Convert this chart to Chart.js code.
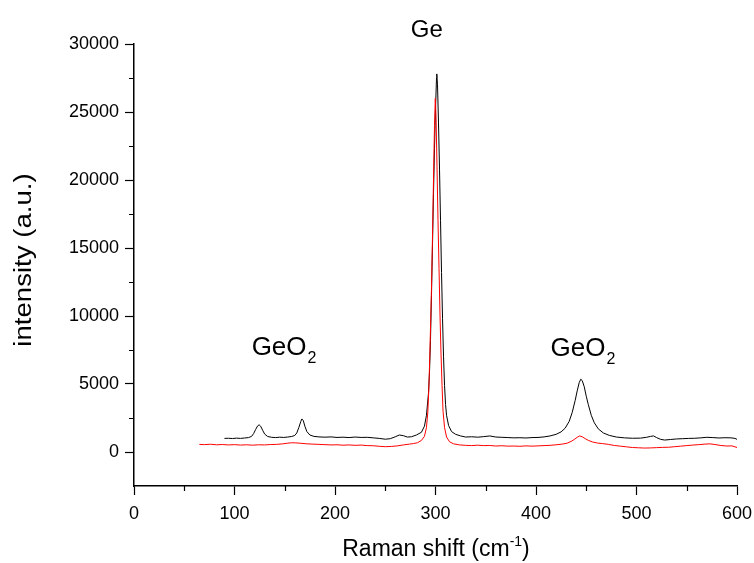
<!DOCTYPE html>
<html>
<head>
<meta charset="utf-8">
<script src="https://cdn.jsdelivr.net/npm/chart.js@4/dist/chart.umd.min.js"></script>
<style>
  html, body { margin: 0; padding: 0; background: #fff; }
  #wrap { width: 754px; height: 563px; position: relative; }
</style>
</head>
<body>
<div id="wrap"><canvas id="c"></canvas></div>
<script>
// Raman spectra: Raman shift (cm^-1) vs intensity (a.u.)
const blackShift = [90, 94, 98, 102, 106, 110, 114, 117, 119, 121, 123, 124.5, 126, 128, 130, 133, 137, 141, 145, 149, 153, 157, 160, 162, 164, 166, 167, 168.5, 170, 172, 175, 179, 184, 190, 196, 202, 208, 214, 220, 226, 232, 238, 244, 250, 255, 260, 264, 268, 272, 276, 281, 286, 289, 291, 293, 294, 295, 296, 297, 298, 299, 300, 301, 301.3, 302, 303, 304, 305, 306, 307, 308, 309, 310, 311, 313, 316, 320, 325, 330, 336, 342, 348, 354, 360, 366, 372, 378, 384, 390, 396, 402, 408, 414, 420, 425, 429, 433, 436, 439, 441, 443, 444.5, 446, 448, 450, 452, 455, 458, 462, 467, 473, 480, 488, 496, 504, 510, 514, 517, 520, 524, 528, 534, 540, 546, 552, 558, 564, 570, 576, 582, 588, 594, 598, 600];
const blackIntensity = [1000, 1010, 990, 1020, 1000, 1030, 1060, 1150, 1350, 1650, 1920, 2000, 1900, 1600, 1320, 1140, 1080, 1060, 1090, 1070, 1100, 1140, 1220, 1400, 1800, 2250, 2430, 2300, 1900, 1500, 1250, 1150, 1110, 1090, 1110, 1070, 1090, 1060, 1100, 1070, 1080, 1040, 1000, 940, 980, 1120, 1250, 1200, 1100, 1120, 1250, 1450, 1900, 2700, 4300, 5800, 8200, 11500, 15200, 19000, 22300, 25200, 27500, 27800, 27000, 24200, 20800, 17000, 13200, 9800, 7000, 4900, 3500, 2700, 1950, 1500, 1300, 1180, 1100, 1120, 1090, 1130, 1180, 1100, 1080, 1060, 1040, 1050, 1030, 1060, 1070, 1110, 1180, 1300, 1480, 1750, 2250, 2900, 3800, 4500, 5100, 5350, 5250, 4800, 4100, 3500, 2700, 2150, 1700, 1400, 1220, 1100, 1040, 1010, 1020, 1080, 1150, 1180, 1060, 930, 880, 920, 960, 980, 1000, 1010, 1040, 1080, 1060, 1030, 1050, 1040, 1000, 930];

const redShift = [65, 70, 76, 82, 88, 94, 100, 106, 112, 118, 124, 130, 136, 142, 148, 153, 157, 161, 166, 172, 178, 184, 190, 196, 202, 208, 214, 220, 226, 232, 238, 244, 250, 256, 262, 268, 274, 278, 282, 286, 289, 291, 292.3, 293.3, 294.3, 295.5, 296, 297, 298, 299, 299.8, 300.6, 301.5, 302.5, 303.5, 304.5, 305.5, 306.5, 307.5, 309, 311, 314, 318, 324, 330, 336, 342, 348, 354, 360, 366, 372, 378, 384, 390, 396, 402, 408, 414, 420, 426, 431, 435, 438, 441, 443.5, 446, 449, 452, 456, 461, 466, 472, 478, 484, 490, 496, 502, 508, 514, 520, 526, 532, 538, 544, 550, 556, 562, 568, 573, 578, 584, 590, 595, 600];
const redIntensity = [560, 540, 570, 530, 550, 520, 540, 510, 530, 500, 530, 520, 550, 560, 600, 650, 680, 670, 640, 600, 580, 560, 540, 520, 530, 500, 520, 490, 510, 470, 460, 420, 390, 410, 450, 520, 580, 620, 680, 850, 1150, 1800, 2870, 4500, 7000, 10500, 12000, 15800, 20000, 24000, 26000, 24500, 21000, 17000, 13500, 10000, 7200, 4900, 3000, 1800, 1100, 750, 600, 520, 490, 470, 500, 470, 480, 440, 460, 430, 440, 420, 450, 430, 450, 470, 490, 530, 580, 650, 780, 920, 1080, 1180, 1120, 980, 860, 740, 660, 620, 560, 480, 430, 380, 330, 310, 290, 300, 320, 340, 350, 390, 430, 470, 510, 540, 580, 600, 550, 480, 440, 450, 330];

// axis ticks
const xMajorTicks = [0, 100, 200, 300, 400, 500, 600];
const xMinorTicks = [50, 150, 250, 350, 450, 550];
const yMajorTicks = [0, 5000, 10000, 15000, 20000, 25000, 30000];
const yMinorTicks = [2500, 7500, 12500, 17500, 22500, 27500];

// peak labels
const peakLabels = ['Ge', 'GeO', 'GeO'];
const peakSubscripts = ['', '2', '2'];

const FONT = '"Liberation Sans", Arial, Helvetica, sans-serif';

// label anchors in data units, with their text sizes
const labelSpots = [
  { x: 291.3, y: 30515, size: 24 },
  { x: 149.3, y: 7132, size: 26 },
  { x: 446.7, y: 7059, size: 26 }
];

function toPoints(xs, ys) {
  return xs.map((x, i) => ({ x: x, y: ys[i] }));
}

// draws minor ticks, axis titles and peak labels
const decorations = {
  id: 'decorations',
  afterDraw(chart) {
    const ctx = chart.ctx;
    const xs = chart.scales.x, ys = chart.scales.y;
    const area = chart.chartArea;
    ctx.save();
    ctx.strokeStyle = '#000';
    ctx.lineWidth = 1.2;
    ctx.beginPath();
    xMinorTicks.forEach(v => {
      const px = Math.round(xs.getPixelForValue(v)) + 0.5;
      ctx.moveTo(px, area.bottom);
      ctx.lineTo(px, area.bottom + 5);
    });
    yMinorTicks.forEach(v => {
      const py = Math.round(ys.getPixelForValue(v)) + 0.5;
      ctx.moveTo(area.left, py);
      ctx.lineTo(area.left - 5, py);
    });
    ctx.stroke();

    ctx.fillStyle = '#000';
    ctx.textBaseline = 'alphabetic';

    // text with sub/superscript part
    function richText(parts, cx, baseline) {
      let total = 0;
      parts.forEach(p => { ctx.font = p.size + 'px ' + FONT; p.w = ctx.measureText(p.t).width + (p.gap || 0); total += p.w; });
      let x = cx - total / 2;
      ctx.textAlign = 'left';
      parts.forEach(p => {
        ctx.font = p.size + 'px ' + FONT;
        ctx.fillText(p.t, x + (p.gap || 0), baseline + (p.dy || 0));
        x += p.w;
      });
    }

    // x axis title
    richText([
      { t: 'Raman shift (cm', size: 23 },
      { t: '-1', size: 14, dy: -10 },
      { t: ')', size: 23 }
    ], 436, 556);

    // y axis title
    ctx.save();
    ctx.translate(31, 260);
    ctx.rotate(-Math.PI / 2);
    ctx.scale(1.2, 1);
    ctx.font = '23px ' + FONT;
    ctx.textAlign = 'center';
    ctx.fillText('intensity (a.u.)', 0, 0);
    ctx.restore();

    // peak labels
    peakLabels.forEach((t, i) => {
      const spot = labelSpots[i];
      const px = xs.getPixelForValue(spot.x);
      const py = ys.getPixelForValue(spot.y);
      const parts = [{ t: t, size: spot.size }];
      if (peakSubscripts[i]) parts.push({ t: peakSubscripts[i], size: 16, dy: 8, gap: 1 });
      richText(parts, px, py);
    });
    ctx.restore();
  }
};

const plainNumber = v => String(v);

new Chart(document.getElementById('c'), {
  type: 'scatter',
  data: {
    datasets: [
      {
        data: toPoints(redShift, redIntensity),
        showLine: true,
        borderColor: '#ff0000',
        borderWidth: 1,
        pointRadius: 0,
        tension: 0
      },
      {
        data: toPoints(blackShift, blackIntensity),
        showLine: true,
        borderColor: '#000000',
        borderWidth: 1,
        pointRadius: 0,
        tension: 0
      }
    ]
  },
  options: {
    responsive: true,
    maintainAspectRatio: false,
    animation: false,
    layout: { padding: { top: 44, right: 17, left: 0, bottom: 0 } },
    plugins: { legend: { display: false }, tooltip: { enabled: false } },
    scales: {
      x: {
        type: 'linear',
        min: 0,
        max: 600,
        afterBuildTicks: s => { s.ticks = xMajorTicks.map(v => ({ value: v })); },
        afterFit: s => { s.height = 77; s.paddingLeft = 0; s.paddingRight = 0; },
        grid: { drawOnChartArea: false, drawTicks: true, tickLength: 9, tickColor: '#000', tickWidth: 1.2 },
        border: { display: true, color: '#000', width: 1.5 },
        ticks: { color: '#000', font: { size: 18, family: FONT }, padding: 8, maxRotation: 0, callback: plainNumber }
      },
      y: {
        type: 'linear',
        min: -2500,
        max: 30000,
        afterBuildTicks: s => { s.ticks = yMajorTicks.map(v => ({ value: v })); },
        afterFit: s => { s.width = 134; s.paddingTop = 0; s.paddingBottom = 0; },
        grid: { drawOnChartArea: false, drawTicks: true, tickLength: 9, tickColor: '#000', tickWidth: 1.2 },
        border: { display: true, color: '#000', width: 1.5 },
        ticks: { color: '#000', font: { size: 18, family: FONT }, padding: 6, callback: plainNumber }
      }
    }
  },
  plugins: [decorations]
});
</script>
</body>
</html>
